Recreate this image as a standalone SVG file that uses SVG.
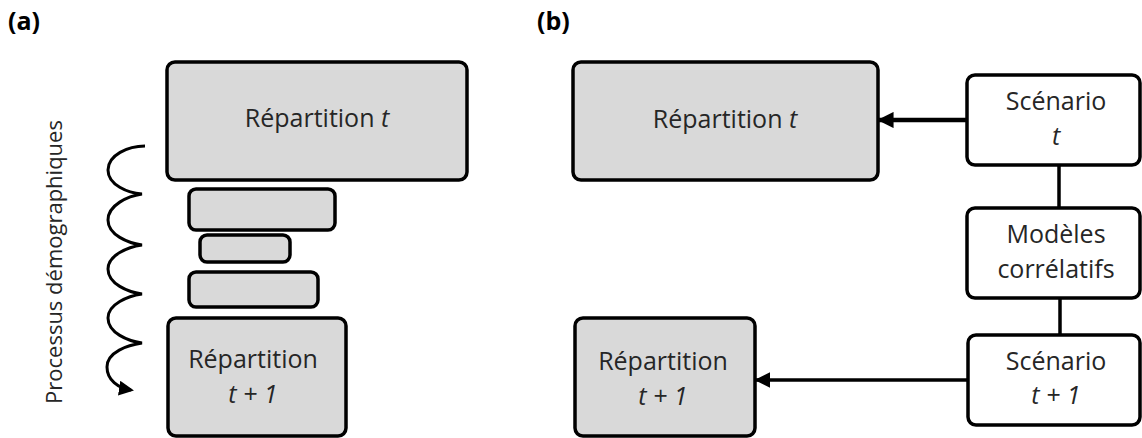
<svg xmlns="http://www.w3.org/2000/svg" width="1142" height="438" viewBox="0 0 1142 438">
<style>
.box{fill:#d9d9d9;stroke:#000;stroke-width:3.5}
.wbox{fill:#fff;stroke:#000;stroke-width:3.5}
.t{font-family:"Open Sans","Liberation Sans",sans-serif;font-size:25px;fill:#262626;text-anchor:middle}
.i{font-style:italic}
.lbl{font-family:"Open Sans","Liberation Sans",sans-serif;font-size:25px;font-weight:bold;fill:#000}
.con{fill:none;stroke:#000}
</style>
<defs>
<marker id="ah" viewBox="0 0 10 10" refX="9" refY="5" markerWidth="3.6" markerHeight="3.6" orient="auto" markerUnits="strokeWidth">
<path d="M0,0 L10,5 L0,10 z" fill="#000"/>
</marker>
<marker id="ah2" viewBox="0 0 10 10" refX="9" refY="5" markerWidth="4.5" markerHeight="4.5" orient="auto" markerUnits="strokeWidth">
<path d="M0,0 L10,5 L0,10 z" fill="#000"/>
</marker>
<marker id="ahw" viewBox="0 0 10 10" refX="8" refY="5" markerWidth="5" markerHeight="5" orient="auto" markerUnits="strokeWidth">
<path d="M0,0 L10,5 L0,10 z" fill="#000"/>
</marker>
</defs>
<text class="lbl" x="8" y="30">(a)</text>
<text class="lbl" x="537" y="30">(b)</text>
<text class="t" transform="translate(62,262) rotate(-90)" style="font-size:22px">Processus démographiques</text>
<g id="a-rep-t">
<rect class="box" x="167" y="62" width="300" height="118" rx="8"/>
<text class="t" x="317" y="127">Répartition <tspan class="i">t</tspan></text>
</g>
<g id="a-bar1"><rect class="box" x="189" y="189" width="146" height="41" rx="7"/></g>
<g id="a-bar2"><rect class="box" x="200" y="235" width="90" height="27" rx="7"/></g>
<g id="a-bar3"><rect class="box" x="189" y="272" width="129" height="35" rx="7"/></g>
<g id="a-rep-t1">
<rect class="box" x="168" y="318" width="178" height="118" rx="8"/>
<text class="t" x="253" y="368">Répartition</text>
<text class="t i" x="253" y="403">t + 1</text>
</g>
<g id="b-rep-t">
<rect class="box" x="573" y="62" width="305" height="118" rx="8"/>
<text class="t" x="725" y="128">Répartition <tspan class="i">t</tspan></text>
</g>
<g id="b-rep-t1">
<rect class="box" x="575" y="318" width="180" height="118" rx="8"/>
<text class="t" x="663" y="370">Répartition</text>
<text class="t i" x="663" y="405">t + 1</text>
</g>
<g id="b-scen-t">
<rect class="wbox" x="967" y="75" width="173" height="90" rx="8"/>
<text class="t" x="1056" y="110">Scénario</text>
<text class="t i" x="1056" y="145">t</text>
</g>
<g id="b-models">
<rect class="wbox" x="967" y="208" width="173" height="90" rx="8"/>
<text class="t" x="1056" y="243">Modèles</text>
<text class="t" x="1056" y="278">corrélatifs</text>
</g>
<g id="b-scen-t1">
<rect class="wbox" x="968" y="335" width="172" height="90" rx="8"/>
<text class="t" x="1056" y="370">Scénario</text>
<text class="t i" x="1056" y="404">t + 1</text>
</g>
<g id="connectors">
<path class="con" stroke-width="3" d="M145,146 C128,146 108,155 108,170 C108,185 128,193 142,194 C128,196 108,205 108,220 C108,235 128,243 142,245 C128,247 108,255 108,269 C108,284 128,292 142,294 C128,296 108,304 108,318 C108,333 128,341 142,343 C128,345 107,352 107,367 C107,380 118,388 131,390" marker-end="url(#ahw)"/>
<line class="con" stroke-width="4.5" x1="967" y1="120" x2="879" y2="120" marker-end="url(#ah)"/>
<line class="con" stroke-width="3.5" x1="1059" y1="165" x2="1059" y2="208"/>
<line class="con" stroke-width="3.5" x1="1060" y1="298" x2="1060" y2="335"/>
<line class="con" stroke-width="3.5" x1="968" y1="380" x2="756" y2="380" marker-end="url(#ah2)"/>
</g>
</svg>
